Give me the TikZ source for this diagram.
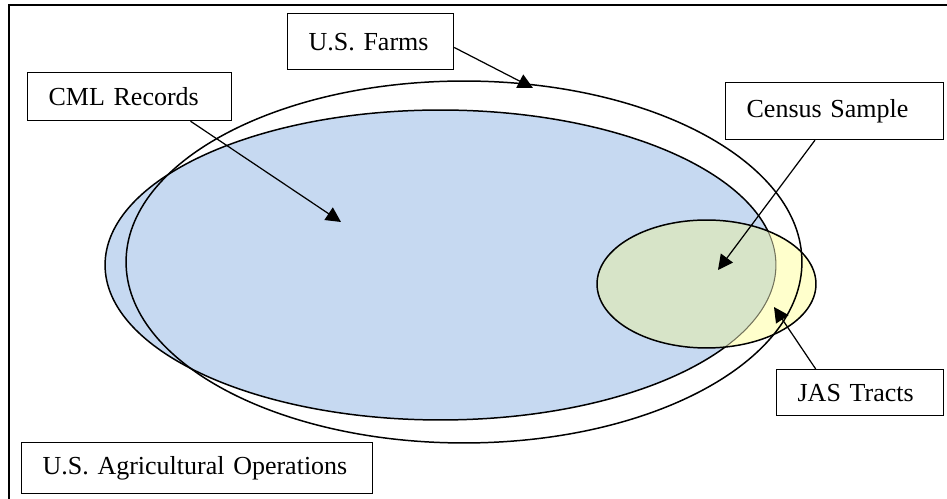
\documentclass[tikz,border=0pt]{standalone}
\usepackage{fontspec}
\setmainfont{Liberation Serif}
\usepackage{xcolor}
\usetikzlibrary{shapes}
\usetikzlibrary{arrows.meta}
\definecolor{cmlblue}{RGB}{198,217,241}
\definecolor{jasyellow}{RGB}{255,255,204}
\definecolor{overlapgreen}{RGB}{215,228,200}
\tikzset{
	label box/.style={rectangle,draw,fill=white,line width=0.7pt,anchor=north west,
		inner xsep=0.42cm,inner ysep=0pt,align=left,font=\fontsize{14.8pt}{17pt}\selectfont},
	region/.style={line width=0.85pt},
	frame line/.style={line width=1.2pt}
}

\begin{document}
\begin{tikzpicture}[x=0.02cm,y=-0.02cm,>={Triangle[length=8.5pt,width=8.5pt]}]
	\useasboundingbox (0,0) rectangle (947,499);
	\draw[frame line] (9,499) -- (9,5) -- (947,5);

	% centres of the three sets
	\coordinate (c1) at (464,262);
	\coordinate (c2) at (440.5,265);
	\coordinate (c3) at (706.5,284);

	\filldraw[region,fill=cmlblue] (c2) ellipse (6.71cm and 3.1cm);
	\fill[jasyellow] (c3) ellipse (2.19cm and 1.28cm);
	\begin{scope}
		\clip (c2) ellipse (6.71cm and 3.1cm);
		\fill[overlapgreen] (c3) ellipse (2.19cm and 1.28cm);
	\end{scope}
	\begin{scope}
		\clip (c3) ellipse (2.19cm and 1.28cm);
		\draw[line width=0.6pt,draw=black!55!jasyellow] (c2) ellipse (6.71cm and 3.1cm);
	\end{scope}
	\draw[region] (c1) ellipse (6.76cm and 3.62cm);
	\draw[region] (c3) ellipse (2.19cm and 1.28cm);

	% labels
	\node[label box,text width=2.48cm,minimum height=1.12cm] (1) at (287,13) {U.S. Farms};
	\node[label box,text width=3.24cm,minimum height=0.96cm] (2) at (27,72) {CML Records};
	\node[label box,text width=3.52cm,minimum height=1.14cm] (3) at (725,82) {Census Sample};
	\node[label box,text width=2.5cm,minimum height=0.92cm] (4) at (776,369) {JAS Tracts};
	\node[label box,text width=6.18cm,minimum height=1.02cm] (5) at (21,442) {U.S. Agricultural Operations};

	% arrow tips
	\coordinate (t1) at (533,88);
	\coordinate (t2) at (341,222);
	\coordinate (t3) at (718,270);
	\coordinate (t4) at (774,307);

	\path[->,line width=0.7pt]
	  (1.-4) edge (t1)
	  (2.-22) edge (t2)
	  (3.-124) edge (t3)
	  (4.152) edge (t4);
\end{tikzpicture}
\end{document}
